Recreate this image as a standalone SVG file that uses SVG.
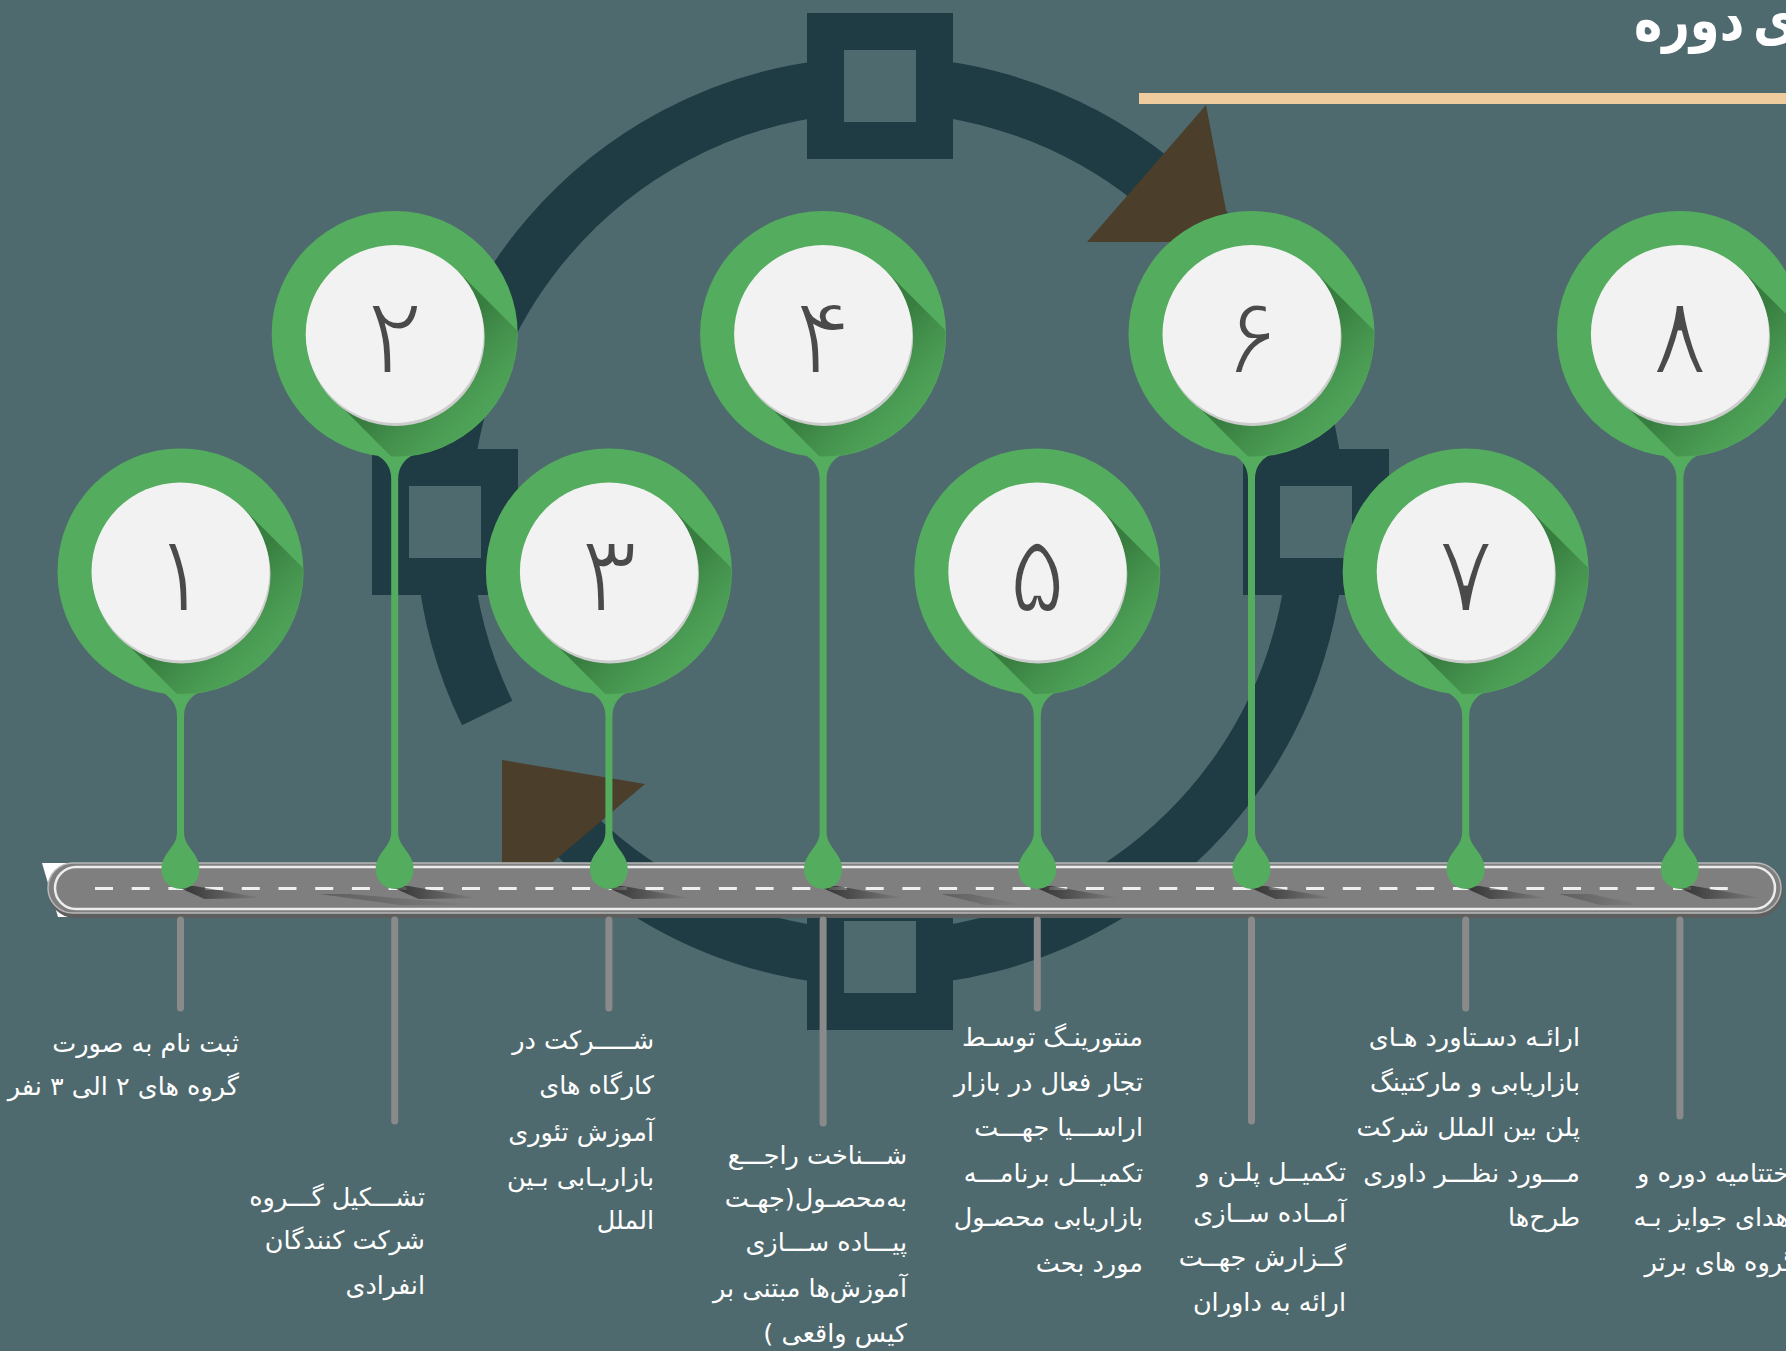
<svg xmlns="http://www.w3.org/2000/svg" xmlns:xlink="http://www.w3.org/1999/xlink" width="1786" height="1351" viewBox="0 0 1786 1351">
<style>
.ring{fill:none;stroke:#1f3b43;stroke-width:56}
.sq{fill:#1f3b43}
.sqi{fill:#4f6a6e}
.tri{fill:#4b3e2a}
.num{font-family:"DejaVu Sans",sans-serif;font-size:110px;fill:#4a4a4a;text-anchor:middle;stroke:#f2f2f2;stroke-width:4}
.lbl{font-family:"DejaVu Sans",sans-serif;font-size:25.5px;fill:#ffffff;direction:rtl;text-anchor:start}
.gstem{fill:#54ac5e}
.gray{stroke:#8a8a8a;stroke-width:7;stroke-linecap:round}
</style>
<defs>
<clipPath id="hc"><circle r="122.5"/></clipPath>
<linearGradient id="shg" gradientUnits="userSpaceOnUse" x1="30" y1="30" x2="130" y2="130">
<stop offset="0" stop-color="#2c6a33" stop-opacity="0.7"/>
<stop offset="1" stop-color="#54ac5e" stop-opacity="0"/>
</linearGradient>
<linearGradient id="dg" x1="0" y1="0" x2="1" y2="0">
<stop offset="0" stop-color="#262626" stop-opacity="0.9"/>
<stop offset="1" stop-color="#262626" stop-opacity="0"/>
</linearGradient>
<g id="head">
<circle r="123" fill="#54ac5e"/>
<polygon points="63,-63 223,97 97,223 -63,63" fill="url(#shg)" clip-path="url(#hc)"/>
<circle cx="1" cy="3" r="89" fill="#cdcdcd"/>
<circle r="89" fill="#f2f2f2"/>
</g>
<polygon id="dsh" points="-5,886 14,886 82,898 24,899" fill="url(#dg)"/>
</defs>

<rect width="1786" height="1351" fill="#4f6a6e"/>

<g id="cycle">
<path class="ring" d="M487.2 713.1 A437 437 0 0 1 1258.4 303.0 A437 437 0 0 1 545.2 802.4"/>
<rect class="sq" x="807" y="13" width="146" height="146"/>
<rect class="sqi" x="844" y="50" width="72" height="72"/>
<rect class="sq" x="372" y="449" width="146" height="146"/>
<rect class="sqi" x="409" y="486" width="72" height="72"/>
<rect class="sq" x="1243" y="449" width="146" height="146"/>
<rect class="sqi" x="1280" y="486" width="72" height="72"/>
<rect class="sq" x="807" y="884" width="146" height="146"/>
<rect class="sqi" x="844" y="921" width="72" height="72"/>
<polygon class="tri" points="1206,105 1087,242 1232,242"/>
<polygon class="tri" points="502,760 645,784 502,905"/>
</g>

<g id="title">
<rect x="1139" y="93" width="647" height="11" fill="#efcc9e"/>
<text transform="translate(1797,40) scale(1,1.2)" x="0" y="0" font-family="DejaVu Sans, sans-serif" font-size="48" font-weight="bold" fill="#ffffff" direction="rtl" text-anchor="start" word-spacing="-8">ی دوره</text>
</g>

<g id="road">
<polygon points="42,863 100,863 100,917 58,917" fill="#ffffff"/>
<rect x="48" y="863" width="1735" height="55" rx="27" fill="#5e5e5e"/>
<rect x="48" y="863" width="1733" height="50" rx="25" fill="#7f7f7f" stroke="#b8b8b8" stroke-width="1.5"/>
<rect x="55" y="867" width="1720" height="42" rx="21" fill="none" stroke="#ededed" stroke-width="2.5"/>
<line x1="95" y1="888.5" x2="1745" y2="888.5" stroke="#efefef" stroke-width="3" stroke-dasharray="18 18.7"/>
<polygon points="319,894 350,894 476,905 400,905" fill="url(#dg)" opacity="0.4"/>
<polygon points="941,894 970,894 1024,905 985,905" fill="url(#dg)" opacity="0.4"/>
<polygon points="1559,894 1590,894 1643,905 1600,905" fill="url(#dg)" opacity="0.4"/>
</g>

<g id="connectors">
<use href="#dsh" x="180.5"/>
<use href="#dsh" x="394.7"/>
<use href="#dsh" x="608.9"/>
<use href="#dsh" x="823.1"/>
<use href="#dsh" x="1037.3"/>
<use href="#dsh" x="1251.5"/>
<use href="#dsh" x="1465.7"/>
<use href="#dsh" x="1679.9"/>
<path class="gstem" d="M160.5,691.5 q16.5,8 16.5,25 V832 c0,16 -15.5,20 -15.5,38 a19,19 0 0 0 38,0 c0,-18 -15.5,-22 -15.5,-38 V716.5 q0,-17 16.5,-25 Z"/>
<path class="gstem" d="M374.7,454 q16.5,8 16.5,25 V832 c0,16 -15.5,20 -15.5,38 a19,19 0 0 0 38,0 c0,-18 -15.5,-22 -15.5,-38 V479 q0,-17 16.5,-25 Z"/>
<path class="gstem" d="M588.9,691.5 q16.5,8 16.5,25 V832 c0,16 -15.5,20 -15.5,38 a19,19 0 0 0 38,0 c0,-18 -15.5,-22 -15.5,-38 V716.5 q0,-17 16.5,-25 Z"/>
<path class="gstem" d="M803.1,454 q16.5,8 16.5,25 V832 c0,16 -15.5,20 -15.5,38 a19,19 0 0 0 38,0 c0,-18 -15.5,-22 -15.5,-38 V479 q0,-17 16.5,-25 Z"/>
<path class="gstem" d="M1017.3,691.5 q16.5,8 16.5,25 V832 c0,16 -15.5,20 -15.5,38 a19,19 0 0 0 38,0 c0,-18 -15.5,-22 -15.5,-38 V716.5 q0,-17 16.5,-25 Z"/>
<path class="gstem" d="M1231.5,454 q16.5,8 16.5,25 V832 c0,16 -15.5,20 -15.5,38 a19,19 0 0 0 38,0 c0,-18 -15.5,-22 -15.5,-38 V479 q0,-17 16.5,-25 Z"/>
<path class="gstem" d="M1445.7,691.5 q16.5,8 16.5,25 V832 c0,16 -15.5,20 -15.5,38 a19,19 0 0 0 38,0 c0,-18 -15.5,-22 -15.5,-38 V716.5 q0,-17 16.5,-25 Z"/>
<path class="gstem" d="M1659.9,454 q16.5,8 16.5,25 V832 c0,16 -15.5,20 -15.5,38 a19,19 0 0 0 38,0 c0,-18 -15.5,-22 -15.5,-38 V479 q0,-17 16.5,-25 Z"/>
<line class="gray" x1="180.5" y1="920" x2="180.5" y2="1008"/>
<line class="gray" x1="394.7" y1="920" x2="394.7" y2="1121"/>
<line class="gray" x1="608.9" y1="920" x2="608.9" y2="1008"/>
<line class="gray" x1="823.1" y1="920" x2="823.1" y2="1123"/>
<line class="gray" x1="1037.3" y1="920" x2="1037.3" y2="1008"/>
<line class="gray" x1="1251.5" y1="920" x2="1251.5" y2="1121"/>
<line class="gray" x1="1465.7" y1="920" x2="1465.7" y2="1008"/>
<line class="gray" x1="1679.9" y1="920" x2="1679.9" y2="1116"/>
</g>

<g id="node1">
<use href="#head" x="180.5" y="571.5"/>
<text class="num" x="180.5" y="612">۱</text>
<text class="lbl" x="239" y="1052">ثبت نام به صورت</text>
<text class="lbl" x="239" y="1095">گروه های ۲ الی ۳ نفر</text>
</g>
<g id="node2">
<use href="#head" x="394.7" y="334"/>
<text class="num" x="394.7" y="374">۲</text>
<text class="lbl" x="425" y="1206">تشـــکیل گـــروه</text>
<text class="lbl" x="425" y="1249">شرکت  کنندگان</text>
<text class="lbl" x="425" y="1294">انفرادی</text>
</g>
<g id="node3">
<use href="#head" x="608.9" y="571.5"/>
<text class="num" x="608.9" y="612">۳</text>
<text class="lbl" x="654" y="1049">شـــــرکت در</text>
<text class="lbl" x="654" y="1094">کارگاه های</text>
<text class="lbl" x="654" y="1141">آموزش  تئوری</text>
<text class="lbl" x="654" y="1186">بازاریـابی بـین</text>
<text class="lbl" x="654" y="1229">الملل</text>
</g>
<g id="node4">
<use href="#head" x="823.1" y="334"/>
<text class="num" x="823.1" y="374">۴</text>
<text class="lbl" x="907" y="1164">شـــناخت راجـــع</text>
<text class="lbl" x="907" y="1207">به‌محصـول(جهـت</text>
<text class="lbl" x="907" y="1251">پیـــاده ســـازی</text>
<text class="lbl" x="907" y="1297">آموزش‌ها مبتنی بر</text>
<text class="lbl" x="907" y="1342">کیس واقعی )</text>
</g>
<g id="node5">
<use href="#head" x="1037.3" y="571.5"/>
<text class="num" x="1037.3" y="612">۵</text>
<text class="lbl" x="1143" y="1046">منتورینـگ توسـط</text>
<text class="lbl" x="1143" y="1091">تجار فعال در بازار</text>
<text class="lbl" x="1143" y="1136">اراســـیا جهـــت</text>
<text class="lbl" x="1143" y="1182">تکمیـــل برنامـــه</text>
<text class="lbl" x="1143" y="1226">بازاریابی محصـول</text>
<text class="lbl" x="1143" y="1272">مورد بحث</text>
</g>
<g id="node6">
<use href="#head" x="1251.5" y="334"/>
<text class="num" x="1251.5" y="374">۶</text>
<text class="lbl" x="1346" y="1181">تکمیــل پلـن و</text>
<text class="lbl" x="1346" y="1222">آمــاده ســازی</text>
<text class="lbl" x="1346" y="1266">گــزارش جهــت</text>
<text class="lbl" x="1346" y="1311">ارائه به داوران</text>
</g>
<g id="node7">
<use href="#head" x="1465.7" y="571.5"/>
<text class="num" x="1465.7" y="612">۷</text>
<text class="lbl" x="1580" y="1046">ارائـه دسـتاورد هـای</text>
<text class="lbl" x="1580" y="1091">بازاریابی و مارکتینگ</text>
<text class="lbl" x="1580" y="1136">پلن بین الملل شرکت</text>
<text class="lbl" x="1580" y="1182">مـــورد نظـــر داوری</text>
<text class="lbl" x="1580" y="1226">طرح‌ها</text>
</g>
<g id="node8">
<use href="#head" x="1679.9" y="334"/>
<text class="num" x="1679.9" y="374">۸</text>
<text class="lbl" x="1796" y="1182">اختتامیه دوره و</text>
<text class="lbl" x="1796" y="1226">اهدای جوایز بـه</text>
<text class="lbl" x="1796" y="1271">گروه های برتر</text>
</g>
</svg>
